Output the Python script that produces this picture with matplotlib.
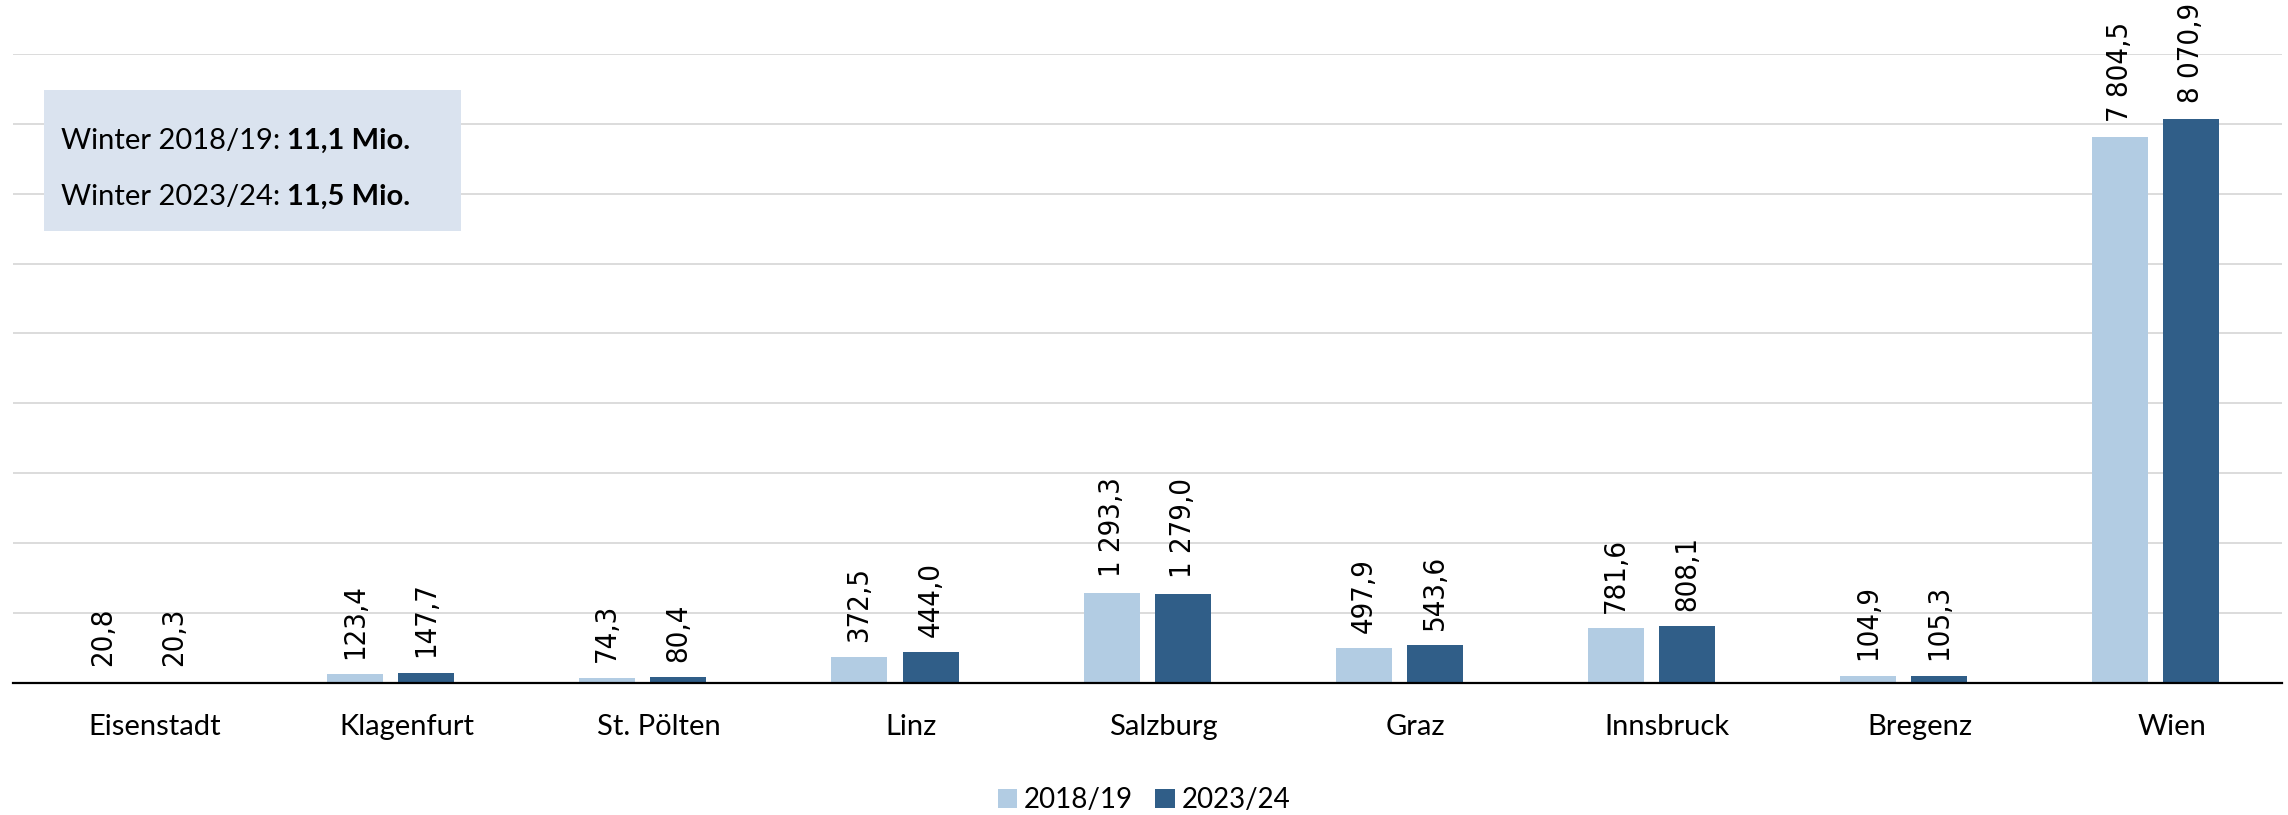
import matplotlib
matplotlib.use("Agg")
import matplotlib.pyplot as plt
from matplotlib.patches import Rectangle
from matplotlib.transforms import ScaledTranslation
import numpy as np

cities = ["Eisenstadt", "Klagenfurt", "St. Pölten", "Linz", "Salzburg",
          "Graz", "Innsbruck", "Bregenz", "Wien"]
v_2018 = [20.8, 123.4, 74.3, 372.5, 1293.3, 497.9, 781.6, 104.9, 7804.5]
v_2023 = [20.3, 147.7, 80.4, 444.0, 1279.0, 543.6, 808.1, 105.3, 8070.9]
series_names = ["2018/19", "2023/24"]
box_lines = [("Winter 2018/19: ", "11,1 Mio."), ("Winter 2023/24: ", "11,5 Mio.")]

c_light = "#B2CCE3"
c_dark = "#305E88"
c_box = "#DAE3EF"
cat_font = "Lato"
lab_font = "DejaVu Sans"

def fmt(v):
    return f"{v:,.1f}".replace(",", " ").replace(".", ",")

fig = plt.figure(figsize=(22.88, 8.15), dpi=100)
ax = fig.add_axes([0.0055, 0.162, 0.9917, 0.772])

x = np.arange(len(cities))
w = 0.222
off = 0.141
b1 = ax.bar(x - off, v_2018, w, color=c_light, label=series_names[0], zorder=3)
b2 = ax.bar(x + off, v_2023, w, color=c_dark, label=series_names[1], zorder=3)

for bars, vals in ((b1, v_2018), (b2, v_2023)):
    for rect, v in zip(bars, vals):
        ax.annotate(fmt(v), xy=(rect.get_x() + rect.get_width() / 2, v),
                    xytext=(0, 11), textcoords="offset points",
                    rotation=90, ha="center", va="bottom",
                    fontsize=21, family=lab_font, fontstretch="condensed",
                    color="black", annotation_clip=False)

ax.set_xlim(-0.5, len(cities) - 0.5)
ax.set_ylim(0, 9000)
ax.set_yticks(np.arange(1000, 9001, 1000))
ax.yaxis.grid(True, color="#D9D9D9", linewidth=1.3, zorder=0)
ax.set_axisbelow(True)
ax.tick_params(axis="y", left=False, labelleft=False)
ax.set_xticks(x)
ax.set_xticklabels(cities, family=cat_font, fontsize=21)
ax.tick_params(axis="x", length=0, pad=22)
shift = ScaledTranslation(0.16, 0, fig.dpi_scale_trans)
for lbl in ax.get_xticklabels():
    lbl.set_transform(lbl.get_transform() + shift)
for s in ("top", "right", "left"):
    ax.spines[s].set_visible(False)
ax.spines["bottom"].set_color("black")
ax.spines["bottom"].set_linewidth(1.6)
ax.spines["bottom"].set_zorder(4)

# info box
fig.patches.append(Rectangle((0.0192, 0.7166), 0.1823, 0.173,
                             transform=fig.transFigure, facecolor=c_box,
                             edgecolor="none", zorder=5))
ys = [0.8172, 0.7485]
for (norm, bold), yy in zip(box_lines, ys):
    t = fig.text(0.0265, yy, norm, family=cat_font, fontsize=21,
                 va="baseline", ha="left", zorder=6)
    fig.add_artist(plt.Annotation(bold, xy=(1, 0), xycoords=t,
                                  va="bottom", ha="left",
                                  family=cat_font, fontsize=21,
                                  fontweight="bold", zorder=6))

fig.legend(handles=[b1, b2], labels=series_names, loc="center",
           bbox_to_anchor=(0.5, 0.018), ncol=2, frameon=False,
           prop={"family": cat_font, "size": 20},
           handlelength=0.7, handleheight=0.7, handletextpad=0.25,
           columnspacing=0.8)

fig.savefig("out.png", dpi=100)
